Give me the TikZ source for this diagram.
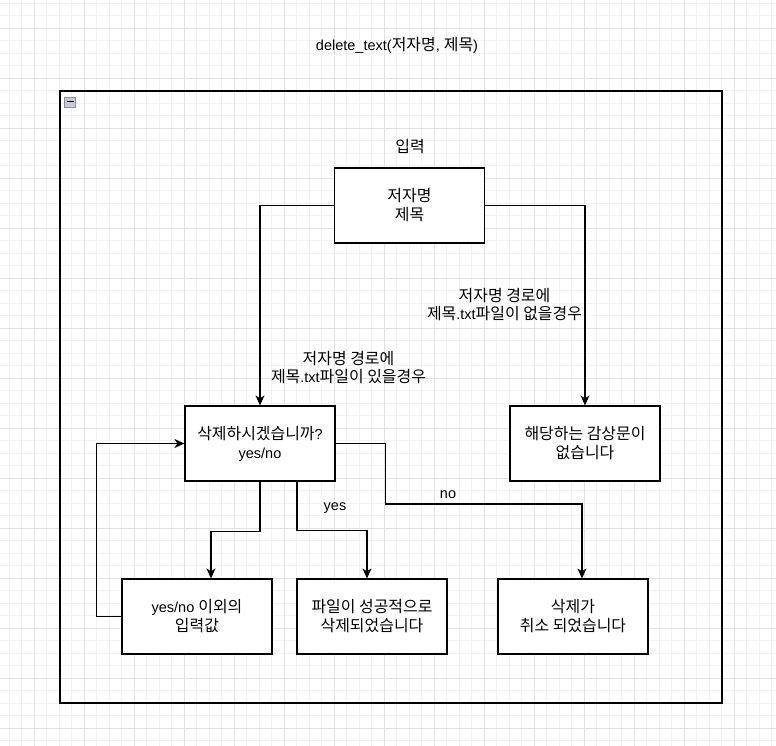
\documentclass[tikz,border=0pt]{standalone}
\usepackage{fontspec}
\setmainfont{Liberation Sans}
\newfontfamily\kr[Scale=1.1]{Noto Sans CJK KR}
\usetikzlibrary{arrows.meta}

\definecolor{gridminor}{HTML}{F2F2F2}
\definecolor{gridmajor}{HTML}{E2E2E2}
\definecolor{iconfill}{HTML}{C8CAD4}
\definecolor{iconline}{HTML}{8A8EA0}

\tikzset{
    box/.style={draw, line width=1.2pt, fill=white, minimum width=150pt, minimum height=75pt,
                align=center, font=\fontsize{14.5}{19}\selectfont},
    lbl/.style={align=center, font=\fontsize{14.5}{18}\selectfont},
    arr/.style={line width=1.2pt, -{Stealth[length=10pt, width=9pt, inset=3pt]}},
    link/.style={line width=1.2pt}
}

\begin{document}
\begin{tikzpicture}[x=1pt, y=-1pt]

\useasboundingbox (0,0) rectangle (776,746);
\fill[white] (0,0) rectangle (776,746);

% background grid
\foreach \gx in {0,...,61} {
    \draw[gridminor, line width=0.8pt] (9+12.5*\gx,0) -- (9+12.5*\gx,746);
}
\foreach \gy in {0,...,59} {
    \draw[gridminor, line width=0.8pt] (0,3+12.5*\gy) -- (776,3+12.5*\gy);
}
\foreach \gx in {0,...,15} {
    \draw[gridmajor, line width=0.8pt] (-16+50*\gx,0) -- (-16+50*\gx,746);
}
\foreach \gy in {0,...,15} {
    \draw[gridmajor, line width=0.8pt] (0,-22+50*\gy) -- (776,-22+50*\gy);
}

% title and container
\node[lbl] (title) at (397,45) {delete\_text({\kr 저자명}, {\kr 제목})};
\node[draw, line width=1.2pt, minimum width=662pt, minimum height=612pt] (frame) at (391,397) {};

% collapse icon
\fill[iconfill, draw=iconline, line width=0.6pt] (64.5,97) rectangle (75.5,107);
\draw[black, line width=1pt] (66.5,102) -- (73.5,102);

\node[lbl] (inlabel) at (410,147) {\kr 입력};

% boxes
\node[box] (src) at (409.5,205.5) {\kr 저자명\\\kr 제목};
\node[box] (ask) at (260,443.5) {{\kr 삭제하시겠습니까}?\\yes/no};
\node[box] (none) at (585,443.5) {\kr 해당하는 감상문이\\\kr 없습니다};
\node[box] (other) at (197,616.5) {yes/no {\kr 이외의}\\\kr 입력값};
\node[box] (done) at (372,616.5) {\kr 파일이 성공적으로\\\kr 삭제되었습니다};
\node[box] (cancel) at (573,616.5) {\kr 삭제가\\\kr 취소 되었습니다};

% connectors
\draw[arr] (src.west) -| (ask.north);
\draw[arr] (src.east) -| (none.north);
\draw[arr] (ask.south) -- ++(0,49.5) -| ([xshift=14pt]other.north);
\draw[arr] ([xshift=37pt]ask.south) -- ++(0,49) -| ([xshift=-5pt]done.north);
\draw[arr] (ask.east) -- ++(50,0) -- ++(0,60.5) -| ([xshift=9pt]cancel.north);
\draw[arr] (other.west) -- ++(-25,0) |- (ask.west);

% edge labels
\node[lbl] (haslbl) at (348.5,368) {{\kr 저자명 경로에}\\{\kr 제목}.txt{\kr 파일이 있을경우}};
\node[lbl] (nolbl) at (504.5,305) {{\kr 저자명 경로에}\\{\kr 제목}.txt{\kr 파일이 없을경우}};
\node[lbl] (yeslbl) at (335,508) {yes};
\node[lbl] (nolabel) at (448,495) {no};

\end{tikzpicture}
\end{document}
